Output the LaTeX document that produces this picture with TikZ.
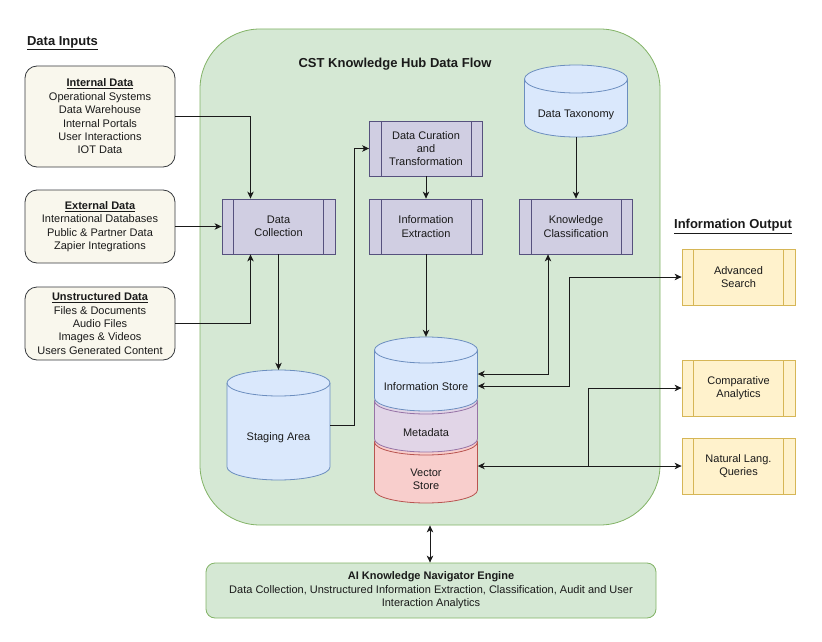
\documentclass[tikz,border=0pt]{standalone}
\usepackage{fontspec}
\setmainfont{Liberation Sans}
\usetikzlibrary{arrows.meta,calc}
\definecolor{hubfill}{HTML}{D5E8D4}
\definecolor{hubdraw}{HTML}{82B366}
\definecolor{infill}{HTML}{F9F7ED}
\definecolor{indraw}{HTML}{36393D}
\definecolor{prfill}{HTML}{D0CEE2}
\definecolor{prdraw}{HTML}{56517E}
\definecolor{blfill}{HTML}{DAE8FC}
\definecolor{bldraw}{HTML}{6C8EBF}
\definecolor{mdfill}{HTML}{E1D5E7}
\definecolor{mddraw}{HTML}{9673A6}
\definecolor{vsfill}{HTML}{F8CECC}
\definecolor{vsdraw}{HTML}{B85450}
\definecolor{oufill}{HTML}{FFF2CC}
\definecolor{oudraw}{HTML}{D6B656}
\definecolor{txt}{HTML}{1A1A1A}
\newcommand\cylshape[9]{%
  \path[fill=#7,draw=#8,line width=0.8pt] (#2-#5,#3+#6) -- (#2-#5,#4-#6)
    arc[start angle=180,end angle=360,x radius=#5pt,y radius=#6pt]
    -- (#2+#5,#3+#6)
    arc[start angle=0,end angle=180,x radius=#5pt,y radius=#6pt] -- cycle;
  \draw[#8,line width=0.8pt] (#2-#5,#3+#6)
    arc[start angle=180,end angle=360,x radius=#5pt,y radius=#6pt];
  \node[minimum width={2*#5}, minimum height={#4-#3}] (#1) at (#2,{(#3+#4)/2}) {};
  \node (#1t) at (#2,{(#3+2*#6+#4)/2}) {#9};
}
\begin{document}
\begin{tikzpicture}[x=1pt,y=-1pt,
  every node/.style={font=\fontsize{11}{13.4}\selectfont, align=center, inner sep=0pt, text=txt},
  arr/.tip={Stealth[length=7pt,width=6.5pt,inset=2pt]},
  conn/.style={line width=0.9pt, draw=txt, -arr},
  conntwo/.style={line width=0.9pt, draw=txt, arr-arr},
  procbox/.style 2 args={draw=#2, fill=#1, line width=0.8pt, minimum width=113pt, minimum height=55pt,
    path picture={\draw[#2, line width=0.8pt]
      ([xshift=11.5pt]path picture bounding box.north west) -- ([xshift=11.5pt]path picture bounding box.south west)
      ([xshift=-11.5pt]path picture bounding box.north east) -- ([xshift=-11.5pt]path picture bounding box.south east);}},
  inbox/.style={draw=indraw, fill=infill, line width=0.8pt, rounded corners=12pt, minimum width=150pt},
  heading/.style={font=\fontsize{13}{15}\selectfont\bfseries}
]
\useasboundingbox (0,0) rectangle (822,642);

% hub background
\node[draw=hubdraw, fill=hubfill, line width=0.8pt, rounded corners=60pt,
      minimum width=460pt, minimum height=496pt] (hub) at (430,277) {};
\node[heading] (title) at (395,64) {CST Knowledge Hub Data Flow};

% headings
\node[heading] (dih) at (62.5,43) {\underline{Data Inputs}};
\node[heading] (ioh) at (733,226.5) {\underline{Information Output}};

% input boxes
\node[inbox, minimum height=101pt] (int) at (100,116.5)
  {\textbf{\underline{Internal Data}}\\Operational Systems\\Data Warehouse\\Internal Portals\\User Interactions\\IOT Data};
\node[inbox, minimum height=73pt] (ext) at (100,226.5)
  {\textbf{\underline{External Data}}\\International Databases\\Public \& Partner Data\\Zapier Integrations};
\node[inbox, minimum height=73pt] (uns) at (100,323.5)
  {\textbf{\underline{Unstructured Data}}\\Files \& Documents\\Audio Files\\Images \& Videos\\Users Generated Content};

% process boxes
\node[procbox={prfill}{prdraw}] (dc) at (278.5,226.5) {Data\\Collection};
\node[procbox={prfill}{prdraw}] (dcur) at (426,148.5) {Data Curation\\and\\Transformation};
\node[procbox={prfill}{prdraw}] (iex) at (426,226.5) {Information\\Extraction};
\node[procbox={prfill}{prdraw}] (kc) at (576,226.5) {Knowledge\\Classification};

% output boxes
\node[procbox={oufill}{oudraw}, minimum height=56pt] (as) at (738.5,277) {Advanced\\Search};
\node[procbox={oufill}{oudraw}, minimum height=56pt] (ca) at (738.5,388) {Comparative\\Analytics};
\node[procbox={oufill}{oudraw}, minimum height=56pt] (nl) at (738.5,466) {Natural Lang.\\Queries};

% cylinders
\cylshape{tax}{576}{65}{137}{51.5}{14}{blfill}{bldraw}{Data Taxonomy}
\cylshape{stg}{278.5}{370}{480}{51.5}{13}{blfill}{bldraw}{Staging Area}
\cylshape{vs}{426}{429}{503}{51.5}{13}{vsfill}{vsdraw}{Vector\\Store}
\cylshape{md}{426}{388}{452}{51.5}{13}{mdfill}{mddraw}{Metadata}
\cylshape{isb}{426}{337}{411}{51.5}{13}{blfill}{bldraw}{Information Store}

% AI engine
\node[draw=hubdraw, fill=hubfill, line width=0.8pt, rounded corners=9pt,
      minimum width=450pt, minimum height=55pt] (ai) at (431,590.5)
  {\textbf{AI Knowledge Navigator Engine}\\Data Collection, Unstructured Information Extraction, Classification, Audit and User\\Interaction Analytics};

% connectors
\draw[conn] (int.east) -| ([xshift=-28pt]dc.north);
\draw[conn] (ext.east) -- (dc.west);
\draw[conn] (uns.east) -| ([xshift=-28pt]dc.south);
\draw[conn] (dc.south) -- (stg.north);
\draw[conn] (stg.east) -- ++(24,0) |- (dcur.west);
\draw[conn] (dcur.south) -- (iex.north);
\draw[conn] (iex.south) -- (isb.north);
\draw[conn] (tax.south) -- (kc.north);
\draw[conntwo] ([xshift=-28pt]kc.south) |- (isb.east);
\draw[conntwo] (as.west) -- ++(-112,0) |- ([yshift=-12pt]isb.east);
\draw[conntwo] (nl.west) -- (vs.east |- nl.west);
\coordinate (br) at (588,466);
\draw[conn] (br) |- (ca.west);
\draw[conntwo] (hub.south) -- (hub.south |- ai.north);
\end{tikzpicture}
\end{document}
